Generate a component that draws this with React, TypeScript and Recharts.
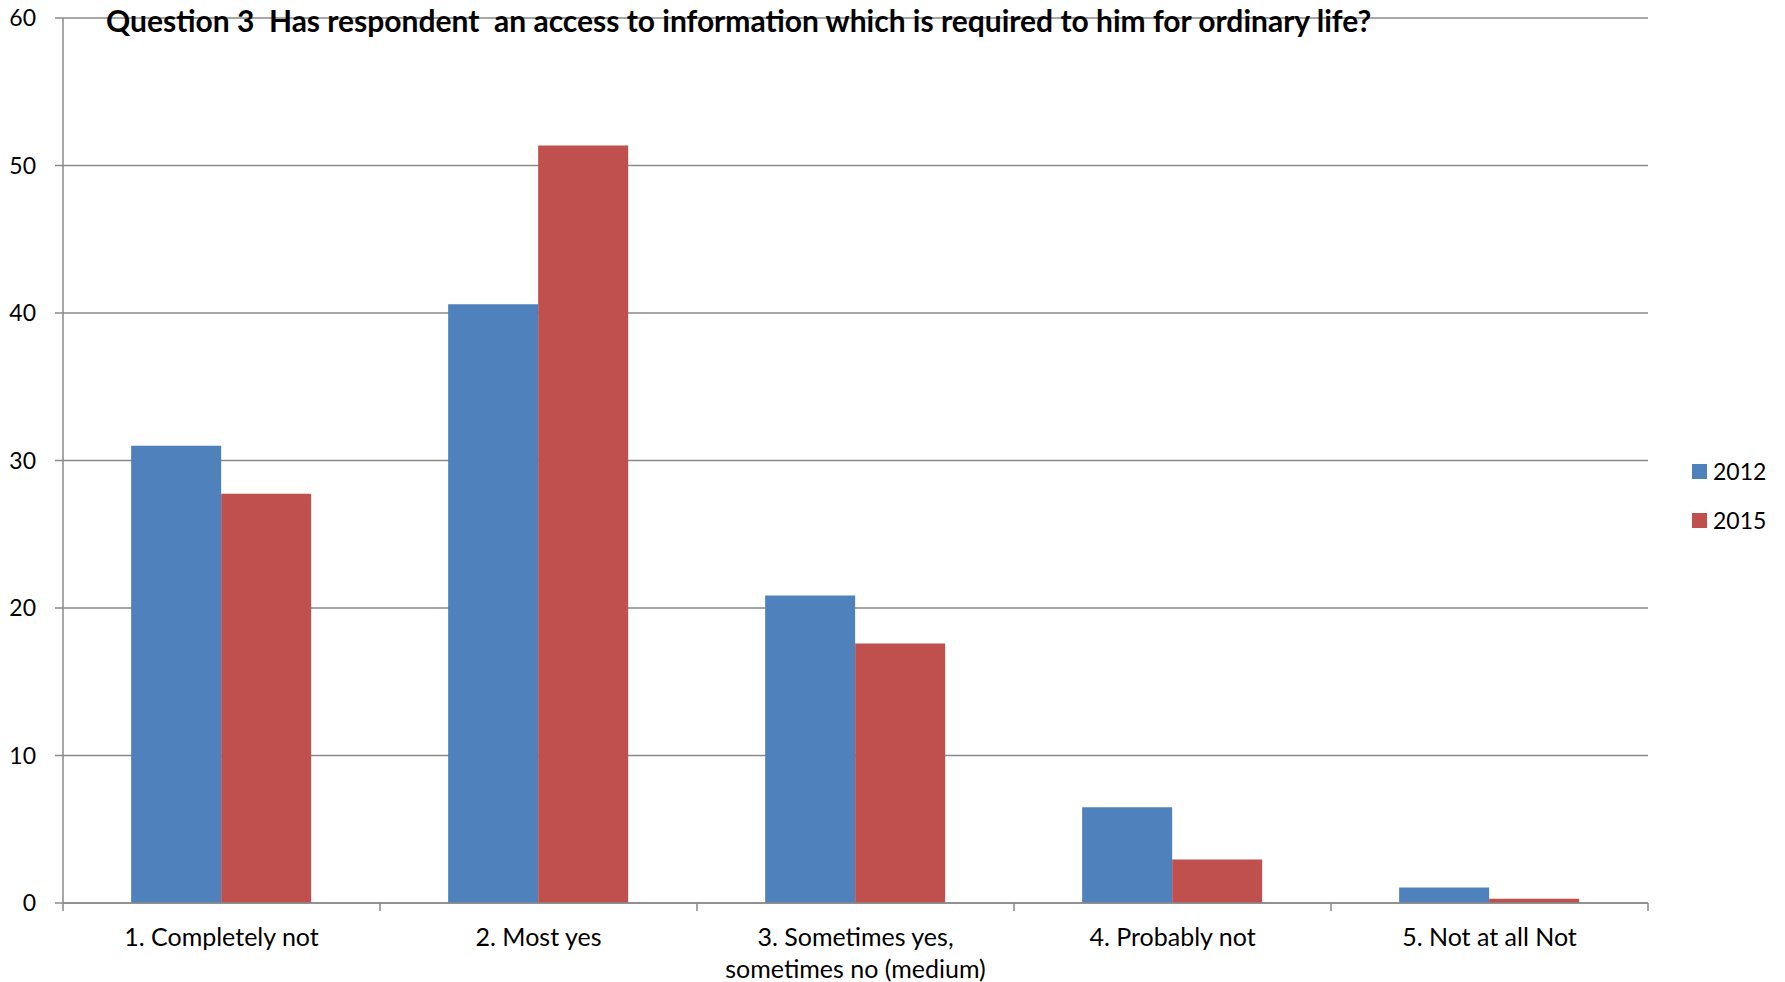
import React from "react";
import { BarChart, Bar, XAxis, YAxis, CartesianGrid } from "recharts";

// ---- data ----
const categories = [
  "1. Completely not",
  "2. Most yes",
  "3. Sometimes yes,\nsometimes no (medium)",
  "4. Probably not",
  "5. Not at all Not",
];
const values2012 = [31.0, 40.6, 20.85, 6.5, 1.05];
const values2015 = [27.75, 51.35, 17.6, 2.95, 0.28];
const seriesNames = ["2012", "2015"];
const yTicks = [0, 10, 20, 30, 40, 50, 60];
const title =
  "Question 3  Has respondent  an access to information which is required to him for ordinary life?";

const COLORS = ["#4F81BD", "#C0504D"];
const GRID = "#8a8a8a";
const FONT = "Lato, 'Open Sans', sans-serif";

const data = categories.map((name, i) => ({
  name,
  s2012: values2012[i],
  s2015: values2015[i],
}));

const W = 1785;
const H = 982;

const XTick = (props: any) => {
  const { x, y, payload, index } = props;
  const half = payload.offset || 0;
  const lines = String(payload.value).split("\n");
  return (
    <g>
      <line x1={x - half} x2={x - half} y1={y} y2={y + 8} stroke={GRID} strokeWidth={1.5} />
      {index === categories.length - 1 && (
        <line x1={x + half} x2={x + half} y1={y} y2={y + 8} stroke={GRID} strokeWidth={1.5} />
      )}
      {lines.map((l, k) => (
        <text
          key={k}
          x={x}
          y={y + 43 + k * 32}
          textAnchor="middle"
          fontFamily={FONT}
          fontSize={25}
          fill="#000"
        >
          {l}
        </text>
      ))}
    </g>
  );
};

export default function App() {
  return (
    <div
      style={{
        position: "absolute",
        left: 0,
        top: 0,
        width: W,
        height: H,
        background: "#fff",
        fontFamily: FONT,
      }}
    >
      <BarChart
        width={W}
        height={H}
        data={data}
        margin={{ top: 18, right: 137, bottom: 0, left: 0 }}
        barCategoryGap="21.5%"
        barGap={0}
      >
        <CartesianGrid vertical={false} stroke={GRID} strokeWidth={1.5} />
        <XAxis
          dataKey="name"
          height={79}
          interval={0}
          tickSize={0}
          tickMargin={0}
          tick={<XTick />}
          axisLine={{ stroke: GRID, strokeWidth: 1.5 }}
        />
        <YAxis
          width={63}
          domain={[0, 60]}
          ticks={yTicks}
          interval={0}
          tickSize={8}
          tickMargin={19}
          tickLine={{ stroke: GRID, strokeWidth: 1.5 }}
          axisLine={{ stroke: GRID, strokeWidth: 1.5 }}
          tick={{ fontFamily: FONT, fontSize: 23, fill: "#000" }}
        />
        <Bar dataKey="s2012" name={seriesNames[0]} fill={COLORS[0]} isAnimationActive={false} />
        <Bar dataKey="s2015" name={seriesNames[1]} fill={COLORS[1]} isAnimationActive={false} />
      </BarChart>

      <div
        style={{
          position: "absolute",
          left: 106,
          top: 1,
          fontSize: 30,
          fontWeight: 700,
          lineHeight: "38px",
          whiteSpace: "pre",
          color: "#000",
        }}
      >
        {title}
      </div>

      {seriesNames.map((n, i) => (
        <div
          key={n}
          style={{
            position: "absolute",
            left: 1692,
            top: 456 + i * 49,
            height: 30,
            display: "flex",
            alignItems: "center",
            fontSize: 23,
            color: "#000",
          }}
        >
          <span
            style={{
              display: "inline-block",
              width: 15,
              height: 15,
              background: COLORS[i],
              marginRight: 6,
            }}
          />
          {n}
        </div>
      ))}
    </div>
  );
}
